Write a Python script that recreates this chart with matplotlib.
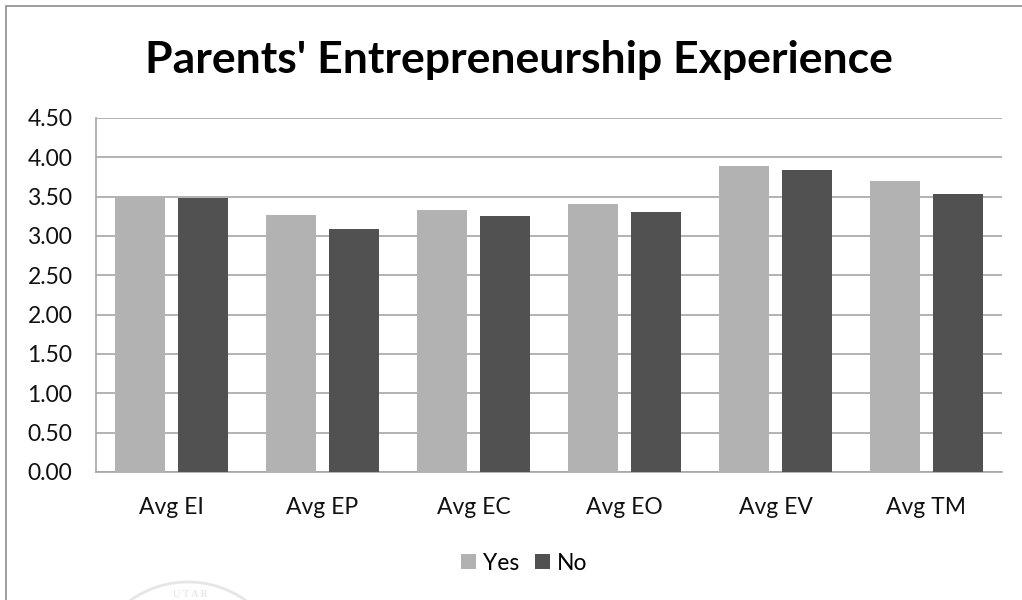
import numpy as np
import matplotlib
matplotlib.use('Agg')
import matplotlib.pyplot as plt
from matplotlib.patches import Rectangle, Arc

categories = ['Avg EI', 'Avg EP', 'Avg EC', 'Avg EO', 'Avg EV', 'Avg TM']
yes_values = [3.50, 3.27, 3.33, 3.41, 3.89, 3.70]
no_values = [3.48, 3.09, 3.26, 3.30, 3.84, 3.54]
y_ticks = [0, 0.5, 1, 1.5, 2, 2.5, 3, 3.5, 4, 4.5]

W, H = 1022, 600
plt.rcParams['font.family'] = ['Lato', 'DejaVu Sans']

fig = plt.figure(figsize=(W / 100, H / 100), dpi=100)
ax = fig.add_axes([96 / W, 1 - 472 / H, (1002 - 96) / W, (472 - 118) / H])

x = np.arange(len(categories))
width = 0.331
offset = 0.209
ax.bar(x - offset, yes_values, width, color='#b2b2b2', zorder=3, label='Yes')
ax.bar(x + offset, no_values, width, color='#515151', zorder=3, label='No')

ax.set_xlim(-0.5, 5.5)
ax.set_ylim(0, 4.5)
ax.set_yticks(y_ticks)
ax.set_yticklabels([f'{v:.2f}' for v in y_ticks])
ax.set_xticks(x)
ax.set_xticklabels(categories)
ax.tick_params(axis='both', length=0, labelsize=16.5, labelcolor='#111111')
ax.tick_params(axis='x', pad=18)
ax.tick_params(axis='y', pad=17)
ax.grid(axis='y', color='#a6a6a6', lw=1.2, zorder=1)
for side in ['top', 'right']:
    ax.spines[side].set_visible(False)
ax.spines['left'].set_color('#a6a6a6')
ax.spines['bottom'].set_color('#a6a6a6')
ax.spines['left'].set_linewidth(1.2)
ax.spines['bottom'].set_linewidth(1.2)

fig.text(519 / W, 1 - 60 / H, "Parents' Entrepreneurship Experience", ha='center', va='center',
         fontsize=32, fontweight='bold', color='black')

fig.legend(loc='center', bbox_to_anchor=(524 / W, 1 - 563 / H), ncol=2, frameon=False, fontsize=16.5,
           handlelength=0.65, handleheight=0.65, handletextpad=0.3, columnspacing=0.7)

# chart frame, open at the bottom of the crop
fig.add_artist(Rectangle((6 / W, -0.01), 1.2, 1.01 - 6 / H, transform=fig.transFigure,
                         fill=False, ec='#8c8c8c', lw=1.2))

# faint stamp showing under the chart
ov = fig.add_axes([0, 0, 1, 1])
ov.set_xlim(0, W)
ov.set_ylim(H, 0)
ov.axis('off')
ov.patch.set_alpha(0)
ov.add_patch(Arc((188, 672), 190, 180, theta1=205, theta2=335, color='#e6e6e6', lw=2))
ov.text(190, 599, 'U T A R', ha='center', va='bottom', fontsize=7.5, family='Liberation Serif', color='#e0e0e0')

fig.savefig('out.png', dpi=100)
